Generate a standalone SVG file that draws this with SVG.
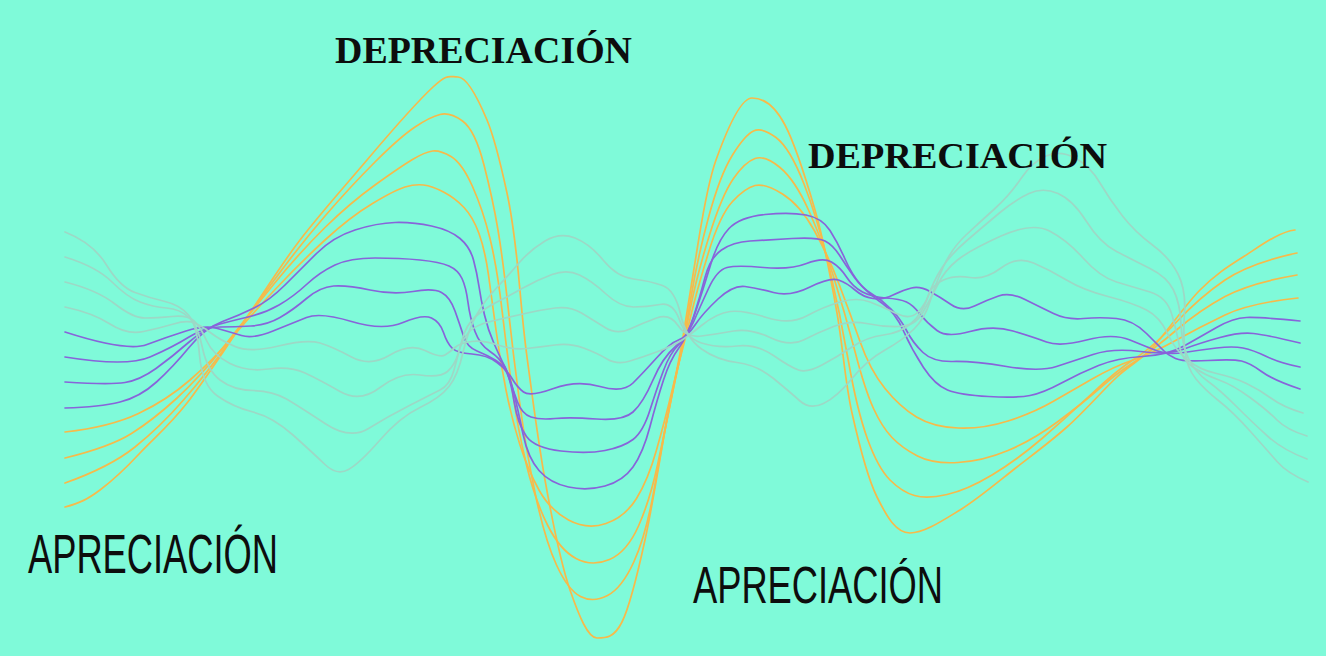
<svg xmlns="http://www.w3.org/2000/svg" width="1326" height="656" viewBox="0 0 1326 656">
<style>
.o{fill:none;stroke:#F7BA4A;stroke-width:1.7;stroke-linecap:round;stroke-linejoin:round}
.p{fill:none;stroke:#8864DA;stroke-width:1.7;stroke-linecap:round;stroke-linejoin:round}
.f{fill:none;stroke:#9DD8C6;stroke-width:1.7;stroke-linecap:round;stroke-linejoin:round}
.dep{font-family:"Liberation Serif","DejaVu Serif",serif;font-weight:bold;fill:#0d0d0d}
.apr{font-family:"Liberation Sans","DejaVu Sans",sans-serif;fill:#0d0d0d}
</style>
<rect width="1326" height="656" fill="#7FFAD9"/>
<g id="orange-lines">
<path class="o" d="M65 507 C80 503 88 499 100 490 S126 468 140 453 S169 426 187 403 S228 344 247 317 S280 266 300 240 S345 186 367 160 S418 101 433 87 S449 77 458 77 S479 101 487 120 S502 170 507 193 S514 233 517 260 S522 320 527 357 S538 441 545 480 S561 564 570 590 S588 638 597 638 S614 638 622 622 S638 572 645 540 S659 464 665 430 S678 367 683 337 S692 280 697 250 S707 185 716 160 S740 98 752 98 S775 106 785 125 S806 179 815 210 S831 279 837 313 S845 382 852 413 S867 477 877 497 S896 533 910 533 S942 521 960 510 S999 481 1017 467 S1050 442 1067 427 S1103 390 1117 377 S1139 362 1153 347 S1185 305 1200 290 S1227 267 1243 257 S1278 232 1295 230"/>
<path class="o" d="M65 483 Q110 467 135 447 Q160 427 183.5 400 Q207 373 227 345 Q247 317 273.5 281 Q300 245 325 216 Q350 187 375 162 Q400 137 415 127 Q430 117 440 114.5 Q450 112 462.5 121 Q475 130 484 165 Q493 200 498 230 Q503 260 508 306.5 Q513 353 519.5 401.5 Q526 450 535.5 495 Q545 540 556.5 565 Q568 590 580.5 596.5 Q593 603 607.5 595.5 Q622 588 634 561.5 Q646 535 654 490 Q662 445 668 415 Q674 385 679 362.5 Q684 340 690.5 300 Q697 260 708.5 217.5 Q720 175 732.5 155 Q745 135 753.5 131 Q762 127 776 137.5 Q790 148 804 184 Q818 220 829 266.5 Q840 313 848.5 361.5 Q857 410 867.5 439 Q878 468 890 480 Q902 492 914.5 495.5 Q927 499 947 494.5 Q967 490 992 475 Q1017 460 1042 438.5 Q1067 417 1092 393.5 Q1117 370 1135 358.5 Q1153 347 1176.5 322 Q1200 297 1225 280 Q1250 263 1297 253"/>
<path class="o" d="M65 458 Q110 447 131.5 433.5 Q153 420 176.5 398.5 Q200 377 223.5 347 Q247 317 273.5 284.5 Q300 252 325 227.5 Q350 203 375 185 Q400 167 412.5 159.5 Q425 152 432.5 151 Q440 150 451 156.5 Q462 163 472.5 186.5 Q483 210 490 238.5 Q497 267 502 310 Q507 353 512.5 391.5 Q518 430 526.5 465 Q535 500 547.5 525 Q560 550 576 558.5 Q592 567 609.5 559.5 Q627 552 638.5 526 Q650 500 657.5 465 Q665 430 670.5 402.5 Q676 375 680 357.5 Q684 340 690.5 307.5 Q697 275 709.5 235 Q722 195 733.5 178.5 Q745 162 755 158.5 Q765 155 780 167.5 Q795 180 808.5 210 Q822 240 833.5 276.5 Q845 313 855 351.5 Q865 390 873.5 408.5 Q882 427 892 437.5 Q902 448 917.5 456 Q933 464 958 462.5 Q983 461 1008 450.5 Q1033 440 1058 421.5 Q1083 403 1100 388 Q1117 373 1135 361.5 Q1153 350 1176.5 330 Q1200 310 1225 296.5 Q1250 283 1297 275"/>
<path class="o" d="M65 432 Q110 427 138.5 413.5 Q167 400 190 380 Q213 360 233 336.5 Q253 313 276.5 288 Q300 263 325 240 Q350 217 372.5 203.5 Q395 190 405 187 Q415 184 423.5 185 Q432 186 443.5 192 Q455 198 464 207.5 Q473 217 479 233.5 Q485 250 488.5 275 Q492 300 496 330 Q500 360 506 390 Q512 420 520 445 Q528 470 539 490 Q550 510 568.5 520 Q587 530 606 523.5 Q625 517 636.5 498.5 Q648 480 656.5 450 Q665 420 671 395 Q677 370 681 355 Q685 340 691 315 Q697 290 708.5 252.5 Q720 215 732.5 201.5 Q745 188 755 185.5 Q765 183 782.5 194 Q800 205 814 230 Q828 255 839 284 Q850 313 860 341.5 Q870 370 885 388.5 Q900 407 916.5 417 Q933 427 958 428 Q983 429 1008 421 Q1033 413 1053 401.5 Q1073 390 1093 378.5 Q1113 367 1133 360 Q1153 353 1176.5 340 Q1200 327 1225 315 Q1250 303 1298 298"/>
</g>
<g id="purple-lines">
<path class="p" d="M65 408 Q100 407 120 402 Q140 397 156.5 382 Q173 367 189 347.5 Q205 328 222.5 321.5 Q240 315 255 307.5 Q270 300 285 285 Q300 270 316.5 253.5 Q333 237 355 230 Q377 223 395 222.5 Q413 222 431.5 226 Q450 230 460 238.5 Q470 247 473.5 260 Q477 273 479 286.5 Q481 300 484.5 315 Q488 330 494 343.5 Q500 357 505 367 Q510 377 514 393.5 Q518 410 523 434 Q528 458 539 470.5 Q550 483 568.5 487 Q587 491 605 486 Q623 481 633 467 Q643 453 650 426.5 Q657 400 663.5 380 Q670 360 678.5 348.5 Q687 337 695 313.5 Q703 290 710.5 265 Q718 240 729 228.5 Q740 217 765 214.5 Q790 212 806 215 Q822 218 830 230.5 Q838 243 845 259 Q852 275 861 285 Q870 295 882.5 303.5 Q895 312 903.5 331 Q912 350 923.5 367.5 Q935 385 947.5 390 Q960 395 988.5 396.5 Q1017 398 1030 395.5 Q1043 393 1061.5 383 Q1080 373 1098.5 365.5 Q1117 358 1142.5 356.5 Q1168 355 1184 346 Q1200 337 1216.5 327.5 Q1233 318 1246.5 317.5 Q1260 317 1300 321"/>
<path class="p" d="M65 382 Q110 385 125 382.5 Q140 380 156 368.5 Q172 357 188.5 342.5 Q205 328 220 324 Q235 320 250 316.5 Q265 313 279 305 Q293 297 306.5 284.5 Q320 272 335 265 Q350 258 375 258 Q400 258 420 260 Q440 262 449 266 Q458 270 462 278.5 Q466 287 468 302.5 Q470 318 475 331.5 Q480 345 490 351.5 Q500 358 505 367.5 Q510 377 514 401 Q518 425 526.5 436.5 Q535 448 561 451 Q587 454 605 450.5 Q623 447 633 439.5 Q643 432 650 410 Q657 388 663.5 370.5 Q670 353 678.5 345 Q687 337 693.5 317 Q700 297 705 277.5 Q710 258 721.5 250 Q733 242 750 241 Q767 240 792 238.5 Q817 237 825 241 Q833 245 840 256 Q847 267 854.5 277.5 Q862 288 872 294 Q882 300 891 309 Q900 318 906.5 330.5 Q913 343 923 352.5 Q933 362 953 361.5 Q973 361 1006.5 366.5 Q1040 372 1056.5 366.5 Q1073 361 1093 354.5 Q1113 348 1140.5 351.5 Q1168 355 1184 349 Q1200 343 1220 337.5 Q1240 332 1253.5 333.5 Q1267 335 1300 343"/>
<path class="p" d="M65 357 Q127 367 150 357 Q173 347 189 337 Q205 327 220 327 Q235 327 251 326 Q267 325 280 317.5 Q293 310 306.5 298.5 Q320 287 333.5 286 Q347 285 370 290 Q393 295 413 291.5 Q433 288 441.5 292.5 Q450 297 455 311 Q460 325 463.5 336 Q467 347 477 351 Q487 355 496 360.5 Q505 366 509 378 Q513 390 517.5 402 Q522 414 531 417 Q540 420 555 418.5 Q570 417 596.5 419 Q623 421 633 412 Q643 403 653 380 Q663 357 675 347 Q687 337 693.5 322 Q700 307 708.5 288.5 Q717 270 727 267.5 Q737 265 763.5 267.5 Q790 270 806.5 263.5 Q823 257 831.5 262 Q840 267 846.5 277 Q853 287 862.5 292 Q872 297 886 298 Q900 299 906.5 302 Q913 305 920 314 Q927 323 937 330.5 Q947 338 970 331.5 Q993 325 1013 331 Q1033 337 1046.5 342 Q1060 347 1086.5 340 Q1113 333 1130 340 Q1147 347 1157.5 351 Q1168 355 1184 352.5 Q1200 350 1216.5 348 Q1233 346 1243 348 Q1253 350 1266.5 356.5 Q1280 363 1300 367"/>
<path class="p" d="M65 332 Q127 352 147 344.5 Q167 337 186 331 Q205 325 217.5 328.5 Q230 332 241.5 335.5 Q253 339 273 331 Q293 323 306.5 317.5 Q320 312 351.5 321.5 Q383 331 403 322.5 Q423 314 431.5 318 Q440 322 443.5 332.5 Q447 343 452 348 Q457 353 472 354 Q487 355 497 362.5 Q507 370 512 378.5 Q517 387 523.5 392 Q530 397 553.5 388.5 Q577 380 600 386.5 Q623 393 633 383 Q643 373 656.5 358 Q670 343 678.5 340 Q687 337 695 325 Q703 313 718 299 Q733 285 745 286.5 Q757 288 773.5 292.5 Q790 297 810 287 Q830 277 838.5 280 Q847 283 855 290 Q863 297 873 298.5 Q883 300 893 295 Q903 290 911.5 288 Q920 286 930 291.5 Q940 297 951 304.5 Q962 312 974.5 306 Q987 300 998.5 296 Q1010 292 1025 299.5 Q1040 307 1053.5 313.5 Q1067 320 1083.5 318.5 Q1100 317 1116.5 318.5 Q1133 320 1146.5 333.5 Q1160 347 1164 351 Q1168 355 1175.5 358.5 Q1183 362 1208 360.5 Q1233 359 1241.5 361 Q1250 363 1261.5 371.5 Q1273 380 1300 389"/>
</g>
<g id="faint-lines">
<path class="f" d="M65 232 Q93 243 106.5 265 Q120 287 135 292.5 Q150 298 165 301.5 Q180 305 188.5 315 Q197 325 199.5 355 Q202 385 217.5 396 Q233 407 253 412 Q273 417 293 435 Q313 453 325 464.5 Q337 476 348.5 469.5 Q360 463 380 440 Q400 417 420 407.5 Q440 398 449 386.5 Q458 375 463 352.5 Q468 330 476.5 315 Q485 300 496 288.5 Q507 277 518.5 263.5 Q530 250 545 241 Q560 232 575 238 Q590 244 603.5 260.5 Q617 277 633.5 279 Q650 281 662.5 285.5 Q675 290 680.5 314 Q686 338 701.5 349 Q717 360 737 362.5 Q757 365 773.5 378.5 Q790 392 800 401 Q810 410 823.5 403.5 Q837 397 852 378.5 Q867 360 885 350 Q903 340 914 329 Q925 318 930 301.5 Q935 285 943.5 266.5 Q952 248 966 235 Q980 222 995 208.5 Q1010 195 1021 178.5 Q1032 162 1046 156 Q1060 150 1075 158 Q1090 166 1100 183 Q1110 200 1122.5 216 Q1135 232 1152.5 245 Q1170 258 1178 274 Q1186 290 1184.5 312.5 Q1183 335 1185 351.5 Q1187 368 1196 379 Q1205 390 1219 401 Q1233 412 1250 431 Q1267 450 1277 461.5 Q1287 473 1308 482"/>
<path class="f" d="M65 257 Q97 267 112 282 Q127 297 140 302 Q153 307 166.5 308 Q180 309 189 317.5 Q198 326 202.5 348 Q207 370 220 380 Q233 390 253 390.5 Q273 391 286.5 399 Q300 407 325 423.5 Q350 440 368.5 428.5 Q387 417 408.5 406 Q430 395 440 390 Q450 385 454 370 Q458 355 462 340 Q466 325 475.5 316.5 Q485 308 496 302.5 Q507 297 522 288.5 Q537 280 552 274.5 Q567 269 579.5 275 Q592 281 606 294 Q620 307 633.5 307 Q647 307 660 304.5 Q673 302 679.5 320 Q686 338 701.5 343 Q717 348 737 346 Q757 344 773.5 355.5 Q790 367 798.5 370 Q807 373 822 365 Q837 357 852 347 Q867 337 883.5 335 Q900 333 911 323.5 Q922 314 927.5 298 Q933 282 941.5 268.5 Q950 255 967.5 240 Q985 225 1000 212.5 Q1015 200 1029 193.5 Q1043 187 1058 193.5 Q1073 200 1086.5 221.5 Q1100 243 1116.5 251.5 Q1133 260 1150 268.5 Q1167 277 1173.5 290 Q1180 303 1181 324 Q1182 345 1188.5 358.5 Q1195 372 1207.5 381 Q1220 390 1236.5 406.5 Q1253 423 1268 436.5 Q1283 450 1307 459"/>
<path class="f" d="M65 282 Q97 290 115 304 Q133 318 145 318 Q157 318 172 316.5 Q187 315 193.5 320.5 Q200 326 206.5 340.5 Q213 355 230 363.5 Q247 372 268.5 369 Q290 366 305 373 Q320 380 340 391.5 Q360 403 380 387.5 Q400 372 420 375 Q440 378 447.5 371.5 Q455 365 458.5 352.5 Q462 340 468.5 332.5 Q475 325 492.5 321 Q510 317 525 313.5 Q540 310 555 308 Q570 306 581.5 313 Q593 320 605 327.5 Q617 335 630 329 Q643 323 656.5 318 Q670 313 678 325.5 Q686 338 701.5 336 Q717 334 733.5 331 Q750 328 770 337.5 Q790 347 803.5 340 Q817 333 833.5 326.5 Q850 320 866.5 323.5 Q883 327 899 326.5 Q915 326 922.5 313 Q930 300 937.5 285 Q945 270 957.5 260 Q970 250 1001 236 Q1032 222 1049.5 231 Q1067 240 1083.5 258.5 Q1100 277 1116.5 282 Q1133 287 1150 292 Q1167 297 1172 315 Q1177 333 1179.5 346.5 Q1182 360 1193.5 367.5 Q1205 375 1219 380 Q1233 385 1250 397.5 Q1267 410 1277 420 Q1287 430 1307 436"/>
<path class="f" d="M65 307 Q93 313 110 324 Q127 335 143.5 331.5 Q160 328 173.5 324 Q187 320 194.5 323 Q202 326 211 333 Q220 340 235 346.5 Q250 353 278.5 346 Q307 339 320 343 Q333 347 351.5 357 Q370 367 390 355 Q410 343 425 350.5 Q440 358 445 355 Q450 352 455 347.5 Q460 343 471.5 341.5 Q483 340 498 345 Q513 350 526.5 348.5 Q540 347 555 345 Q570 343 583.5 348 Q597 353 607 359 Q617 365 630 361 Q643 357 656.5 352 Q670 347 678 342.5 Q686 338 701.5 325.5 Q717 313 730 311.5 Q743 310 766.5 317.5 Q790 325 806.5 316 Q823 307 840 302 Q857 297 870 302 Q883 307 896.5 313.5 Q910 320 917.5 312.5 Q925 305 928.5 295 Q932 285 943.5 280 Q955 275 970 277.5 Q985 280 1001 268 Q1017 256 1033.5 263 Q1050 270 1066.5 280 Q1083 290 1108 296.5 Q1133 303 1146.5 310 Q1160 317 1167.5 333.5 Q1175 350 1187.5 360 Q1200 370 1216.5 373.5 Q1233 377 1246.5 383.5 Q1260 390 1271.5 398.5 Q1283 407 1303 413"/>
</g>
<g id="labels">
<text id="dep1" class="dep" x="335" y="63" font-size="37" textLength="297" lengthAdjust="spacingAndGlyphs">DEPRECIACIÓN</text>
<text id="dep2" class="dep" x="808" y="168" font-size="35" textLength="299" lengthAdjust="spacingAndGlyphs">DEPRECIACIÓN</text>
<text id="apr1" class="apr" x="28" y="573" font-size="55" textLength="250" lengthAdjust="spacingAndGlyphs">APRECIACIÓN</text>
<text id="apr2" class="apr" x="693" y="603" font-size="51" textLength="250" lengthAdjust="spacingAndGlyphs">APRECIACIÓN</text>
</g>
</svg>
